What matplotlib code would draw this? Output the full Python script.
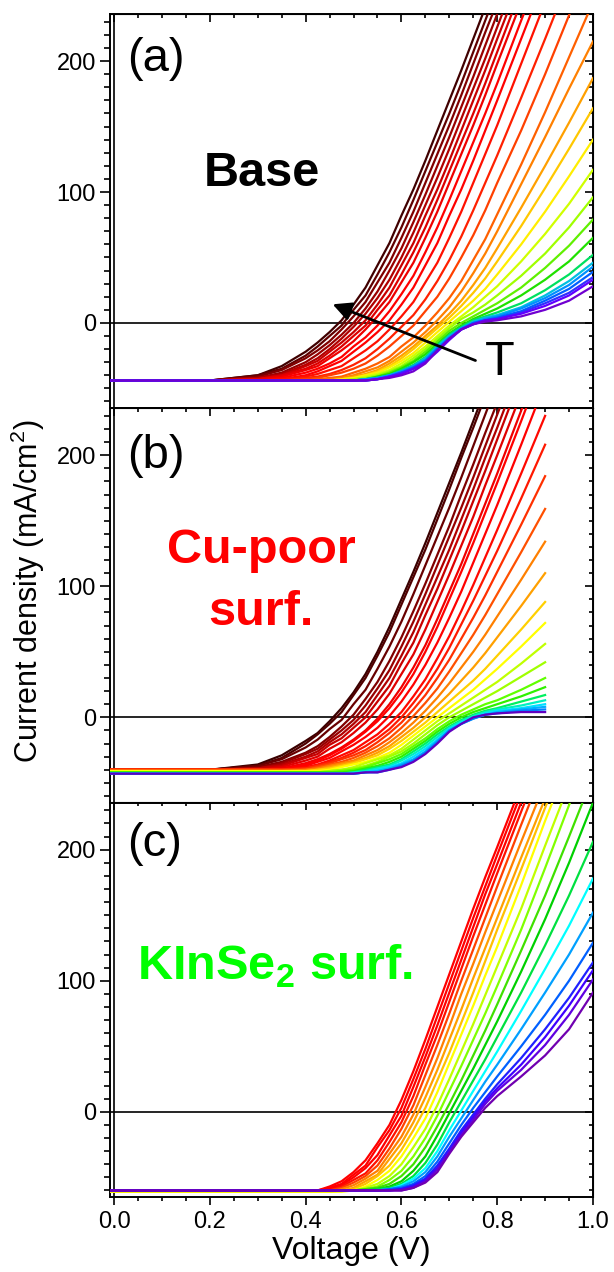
import numpy as np
import matplotlib
matplotlib.use("Agg")
import matplotlib.pyplot as plt
from matplotlib.ticker import MultipleLocator, NullFormatter

plt.rcParams['font.family'] = ['Liberation Sans', 'DejaVu Sans']
plt.rcParams['mathtext.fontset'] = 'custom'
plt.rcParams['mathtext.rm'] = 'Liberation Sans'
plt.rcParams['mathtext.bf'] = 'Liberation Sans:bold'

# voltage grids (V)
volt_a = [-0.01, 0.2, 0.3, 0.35, 0.4, 0.425, 0.45, 0.475, 0.5, 0.525, 0.55, 0.575, 0.6,
          0.625, 0.65, 0.675, 0.7, 0.725, 0.75, 0.775, 0.8, 0.85, 0.9, 0.95, 1.0]
volt_b = [-0.01, 0.2, 0.3, 0.35, 0.4, 0.425, 0.45, 0.475, 0.5, 0.525, 0.55, 0.575, 0.6,
          0.625, 0.65, 0.675, 0.7, 0.725, 0.75, 0.775, 0.8, 0.85, 0.9]
volt_c = volt_a

# current density (mA/cm2), hottest curve first
curves_a = [
    [-44, -44, -40, -33, -22, -15, -7, 2, 14, 27, 44, 61, 82, 102, 124, 147, 170, 193, 217, 241, 264, 311, 358, 405, 452],
    [-44, -44, -40, -35, -25, -18, -10, -2, 10, 21, 37, 54, 73, 94, 116, 138, 160, 183, 207, 231, 255, 302, 349, 396, 443],
    [-44, -44, -41, -36, -27, -21, -14, -5, 5, 16, 31, 46, 65, 85, 107, 129, 151, 174, 198, 222, 245, 292, 339, 386, 433],
    [-44, -44, -42, -38, -30, -24, -17, -9, 0, 11, 24, 40, 57, 77, 98, 120, 142, 165, 188, 212, 236, 283, 330, 377, 424],
    [-44, -44, -42, -39, -32, -27, -20, -12, -3, 7, 19, 33, 50, 69, 90, 111, 133, 156, 179, 202, 226, 274, 321, 368, 415],
    [-44, -44, -43, -40, -33, -29, -22, -15, -7, 2, 14, 27, 44, 61, 82, 102, 124, 147, 170, 193, 217, 264, 311, 358, 405],
    [-44, -44, -43, -40, -35, -31, -25, -18, -10, -2, 10, 21, 37, 54, 73, 94, 116, 138, 160, 183, 207, 255, 302, 349, 396],
    [-44, -44, -43, -41, -36, -33, -27, -21, -14, -5, 5, 16, 31, 46, 65, 85, 107, 129, 151, 174, 198, 245, 292, 339, 386],
    [-44, -44, -44, -42, -38, -35, -31, -26, -18, -11, -2, 9, 22, 36, 54, 73, 94, 116, 138, 160, 183, 231, 278, 325, 372],
    [-44, -44, -44, -43, -40, -37, -33, -29, -22, -15, -7, 2, 14, 27, 44, 61, 82, 102, 124, 147, 170, 217, 264, 311, 358],
    [-44, -44, -44, -43, -41, -39, -36, -33, -27, -21, -14, -5, 5, 16, 31, 46, 65, 85, 107, 129, 151, 198, 245, 292, 339],
    [-44, -44, -44, -44, -42, -41, -39, -36, -32, -27, -20, -12, -3, 6, 18, 32, 48, 66, 86, 107, 128, 172, 217, 263, 308],
    [-44, -44, -44, -44, -43, -42, -40, -38, -35, -31, -25, -18, -10, -2, 9, 20, 34, 50, 67, 86, 107, 147, 190, 235, 278],
    [-44, -44, -44, -44, -44, -43, -42, -41, -38, -35, -31, -26, -18, -11, -2, 8, 19, 32, 48, 64, 83, 121, 161, 203, 245],
    [-44, -44, -44, -44, -44, -44, -43, -42, -40, -37, -34, -29, -22, -15, -7, 2, 12, 24, 38, 53, 70, 106, 142, 179, 215],
    [-44, -44, -44, -44, -44, -44, -44, -43, -41, -39, -36, -31, -25, -18, -10, -2, 7, 17, 29, 42, 57, 88, 120, 153, 187],
    [-44, -44, -44, -44, -44, -44, -44, -43, -42, -40, -37, -33, -27, -20, -12, -4, 4, 13, 23, 34, 47, 74, 103, 133, 164],
    [-44, -44, -44, -44, -44, -44, -44, -43, -42, -40, -38, -34, -29, -23, -15, -7, 1, 9, 17, 26, 37, 60, 85, 112, 140],
    [-44, -44, -44, -44, -44, -44, -44, -44, -43, -41, -39, -36, -31, -25, -18, -10, -2, 5, 12, 20, 28, 47, 68, 91, 117],
    [-44, -44, -44, -44, -44, -44, -44, -44, -43, -42, -40, -37, -33, -27, -20, -12, -4, 3, 8, 14, 21, 36, 53, 73, 96],
    [-44, -44, -44, -44, -44, -44, -44, -44, -44, -43, -41, -38, -34, -29, -22, -14, -6, 0, 5, 10, 15, 27, 42, 59, 79],
    [-44, -44, -44, -44, -44, -44, -44, -44, -44, -43, -41, -39, -35, -30, -24, -16, -8, -2, 3, 7, 11, 21, 33, 47, 65],
    [-44, -44, -44, -44, -44, -44, -44, -44, -44, -43, -42, -40, -36, -32, -26, -17, -9, -3, 2, 5, 8, 15, 25, 37, 52],
    [-44, -44, -44, -44, -44, -44, -44, -44, -44, -43, -42, -40, -37, -33, -27, -18, -10, -4, 1, 4, 6, 12, 21, 32, 46],
    [-44, -44, -44, -44, -44, -44, -44, -44, -44, -43, -42, -40, -37, -33, -28, -19, -11, -4, 0, 3, 5, 11, 19, 29, 43],
    [-44, -44, -44, -44, -44, -44, -44, -44, -44, -44, -43, -41, -38, -34, -29, -20, -12, -5, 0, 2, 4, 9, 17, 26, 39],
    [-44, -44, -44, -44, -44, -44, -44, -44, -44, -44, -43, -41, -38, -35, -30, -21, -12, -5, -1, 2, 3, 8, 15, 23, 35],
    [-44, -44, -44, -44, -44, -44, -44, -44, -44, -44, -43, -41, -39, -35, -30, -22, -13, -5, -1, 2, 3, 7, 13, 21, 33],
    [-44, -44, -44, -44, -44, -44, -44, -44, -44, -44, -43, -42, -40, -37, -31, -21, -12, -5, -1, 1, 2, 5, 10, 17, 28],
]

curves_b = [
    [-40, -40, -36, -29, -18, -12, -3, 7, 19, 33, 50, 69, 90, 111, 133, 156, 179, 202, 226, 250, 274, 321, 368],
    [-40, -40, -37, -31, -20, -13, -5, 4, 17, 30, 47, 65, 86, 107, 128, 151, 174, 198, 221, 245, 269, 316, 363],
    [-40, -40, -37, -32, -23, -17, -9, -2, 10, 21, 37, 54, 73, 94, 116, 138, 160, 183, 207, 231, 255, 302, 349],
    [-40, -40, -38, -34, -27, -22, -15, -7, 2, 14, 27, 43, 61, 81, 102, 124, 146, 170, 193, 217, 240, 287, 334],
    [-40, -40, -39, -35, -28, -24, -17, -10, -2, 9, 22, 36, 54, 73, 94, 116, 138, 160, 183, 207, 231, 278, 325],
    [-40, -40, -39, -36, -30, -26, -19, -13, -5, 4, 17, 30, 47, 65, 86, 107, 128, 151, 174, 198, 221, 269, 316],
    [-40, -40, -39, -37, -31, -28, -21, -16, -8, 0, 12, 24, 41, 57, 78, 98, 120, 142, 165, 188, 212, 260, 307],
    [-40, -40, -40, -38, -33, -30, -24, -19, -12, -4, 6, 18, 33, 48, 67, 88, 109, 131, 153, 177, 200, 247, 294],
    [-40, -40, -40, -39, -35, -32, -28, -23, -17, -10, -1, 10, 23, 38, 55, 75, 96, 117, 140, 163, 186, 234, 281],
    [-40, -40, -40, -40, -36, -33, -29, -24, -18, -11, -3, 7, 19, 33, 50, 69, 90, 111, 133, 156, 179, 226, 274],
    [-40, -40, -40, -40, -37, -34, -31, -26, -21, -15, -8, 1, 12, 25, 40, 57, 76, 96, 118, 140, 162, 208, 255],
    [-40, -40, -40, -40, -38, -36, -33, -29, -25, -19, -13, -5, 4, 16, 29, 45, 62, 81, 101, 122, 143, 186, 230],
    [-40, -40, -40, -40, -39, -37, -34, -31, -27, -22, -16, -9, 0, 11, 23, 37, 53, 71, 89, 108, 127, 167, 208],
    [-40, -40, -40, -40, -39, -37, -35, -32, -29, -25, -19, -12, -4, 6, 17, 30, 44, 60, 76, 93, 111, 147, 184],
    [-40, -40, -40, -40, -40, -38, -36, -34, -31, -27, -22, -16, -8, 1, 11, 22, 35, 49, 63, 78, 94, 126, 159],
    [-41, -41, -41, -41, -40, -39, -37, -35, -33, -29, -25, -19, -12, -4, 5, 15, 26, 38, 50, 63, 77, 105, 134],
    [-41, -41, -41, -41, -41, -40, -38, -36, -34, -31, -27, -22, -15, -8, 0, 9, 18, 28, 38, 49, 61, 85, 110],
    [-41, -41, -41, -41, -41, -40, -39, -37, -35, -32, -29, -24, -18, -11, -4, 4, 12, 20, 28, 37, 47, 67, 88],
    [-41, -41, -41, -41, -41, -41, -40, -38, -36, -34, -31, -27, -21, -14, -7, 0, 7, 14, 21, 29, 37, 54, 72],
    [-42, -42, -42, -42, -42, -42, -41, -40, -38, -35, -32, -29, -24, -17, -10, -3, 3, 9, 15, 21, 27, 41, 56],
    [-42, -42, -42, -42, -42, -42, -41, -40, -39, -37, -34, -30, -26, -20, -13, -6, 0, 5, 10, 15, 20, 31, 42],
    [-42, -42, -42, -42, -42, -42, -42, -41, -40, -38, -35, -32, -28, -22, -16, -9, -3, 2, 6, 10, 13, 21, 30],
    [-42, -42, -42, -42, -42, -42, -42, -42, -41, -39, -37, -34, -30, -24, -18, -11, -5, 0, 4, 7, 10, 16, 23],
    [-43, -43, -43, -43, -43, -43, -43, -43, -42, -40, -38, -36, -32, -26, -20, -13, -7, -2, 2, 5, 7, 12, 17],
    [-43, -43, -43, -43, -43, -43, -43, -43, -42, -41, -39, -37, -33, -28, -22, -15, -8, -3, 1, 4, 6, 9, 13],
    [-43, -43, -43, -43, -43, -43, -43, -43, -43, -42, -40, -38, -35, -30, -24, -17, -9, -4, 0, 3, 5, 7, 10],
    [-43, -43, -43, -43, -43, -43, -43, -43, -43, -42, -41, -39, -36, -32, -26, -18, -10, -5, -1, 2, 4, 6, 8],
    [-43, -43, -43, -43, -43, -43, -43, -43, -43, -42, -42, -40, -37, -33, -27, -19, -10, -5, -1, 2, 3, 5, 6],
    [-43, -43, -43, -43, -43, -43, -43, -43, -43, -42, -42, -40, -38, -34, -28, -20, -11, -5, 0, 2, 3, 4, 4],
]

curves_c = [
    [-61, -61, -61, -61, -61, -60, -57, -53, -46, -37, -24, -10, 9, 31, 55, 80, 105, 130, 155, 179, 202, 249, 296, 343, 390],
    [-61, -61, -61, -61, -61, -60, -58, -55, -48, -41, -27, -14, 3, 25, 48, 73, 98, 123, 148, 172, 196, 243, 290, 337, 384],
    [-61, -61, -61, -61, -61, -61, -59, -56, -50, -43, -33, -18, -3, 19, 42, 66, 91, 116, 141, 166, 189, 236, 283, 330, 377],
    [-61, -61, -61, -61, -61, -61, -60, -57, -52, -47, -37, -23, -8, 12, 36, 59, 84, 109, 134, 158, 182, 229, 276, 323, 370],
    [-61, -61, -61, -61, -61, -61, -60, -58, -54, -49, -41, -28, -13, 5, 28, 51, 75, 100, 124, 148, 172, 219, 265, 311, 357],
    [-61, -61, -61, -61, -61, -61, -61, -59, -56, -51, -45, -32, -19, -2, 19, 41, 65, 90, 113, 137, 160, 206, 251, 296, 341],
    [-61, -61, -61, -61, -61, -61, -61, -60, -58, -53, -48, -36, -24, -8, 11, 32, 55, 78, 102, 125, 148, 194, 239, 283, 327],
    [-61, -61, -61, -61, -61, -61, -61, -60, -59, -55, -49, -41, -29, -14, 3, 24, 45, 68, 91, 115, 139, 185, 232, 278, 323],
    [-61, -61, -61, -61, -61, -61, -61, -61, -60, -57, -52, -45, -34, -20, -5, 15, 37, 59, 81, 104, 126, 173, 222, 268, 313],
    [-60, -60, -60, -60, -60, -60, -60, -60, -60, -58, -55, -49, -40, -27, -13, 5, 25, 46, 67, 89, 111, 155, 203, 250, 297],
    [-60, -60, -60, -60, -60, -60, -60, -60, -60, -59, -57, -52, -45, -34, -20, -3, 16, 35, 55, 75, 96, 139, 186, 234, 282],
    [-60, -60, -60, -60, -60, -60, -60, -60, -60, -59, -58, -55, -49, -40, -27, -11, 6, 24, 43, 62, 82, 123, 165, 210, 256],
    [-60, -60, -60, -60, -60, -60, -60, -60, -60, -60, -59, -57, -53, -45, -34, -18, -1, 16, 33, 51, 69, 107, 147, 190, 236],
    [-60, -60, -60, -60, -60, -60, -60, -60, -60, -60, -59, -58, -55, -49, -39, -25, -8, 8, 24, 40, 57, 91, 127, 165, 206],
    [-60, -60, -60, -60, -60, -60, -60, -60, -60, -60, -60, -59, -56, -51, -43, -30, -14, 1, 16, 31, 46, 77, 109, 142, 178],
    [-60, -60, -60, -60, -60, -60, -60, -60, -60, -60, -60, -59, -57, -53, -46, -34, -19, -5, 9, 23, 36, 63, 91, 120, 152],
    [-60, -60, -60, -60, -60, -60, -60, -60, -60, -60, -60, -59, -58, -55, -49, -38, -24, -10, 3, 15, 27, 50, 74, 100, 129],
    [-60, -60, -60, -60, -60, -60, -60, -60, -60, -60, -60, -60, -59, -56, -51, -41, -28, -14, -2, 10, 21, 41, 63, 87, 114],
    [-60, -60, -60, -60, -60, -60, -60, -60, -60, -60, -60, -60, -59, -57, -52, -43, -30, -16, -4, 8, 18, 36, 57, 81, 108],
    [-60, -60, -60, -60, -60, -60, -60, -60, -60, -60, -60, -60, -60, -58, -53, -44, -31, -18, -6, 6, 16, 32, 51, 74, 101],
    [-60, -60, -60, -60, -60, -60, -60, -60, -60, -60, -60, -60, -60, -58, -54, -46, -32, -19, -8, 3, 12, 27, 43, 63, 91],
]

colors_a = ['#400000', '#600000', '#800000', '#990000', '#b00000', '#c80000', '#dd0000', '#ee0000',
            '#ff0000', '#ff0000', '#ff1000', '#ff2000', '#ff4000', '#ff6000', '#ff8000', '#ffa000',
            '#ffc800', '#ffee00', '#d0ff00', '#a0ff00', '#60f000', '#20e000', '#00e060', '#00c0e0',
            '#0090ff', '#0060ff', '#3030ff', '#6000ff', '#7000d0']
colors_b = ['#3a0000', '#500000', '#680000', '#800000', '#980000', '#b00000', '#c80000', '#e00000',
            '#f00000', '#ff0000', '#ff0000', '#ff0800', '#ff1800', '#ff3000', '#ff5000', '#ff8000',
            '#ffa000', '#ffd000', '#ffff00', '#c0ff00', '#a0ff00', '#60ff00', '#30f000', '#00f060',
            '#00f0c0', '#00e0ff', '#00b0ff', '#0080ff', '#6000c0']
colors_c = ['#ff0000', '#ff0000', '#ff0000', '#ff1000', '#ff4000', '#ff8000', '#ffa000', '#ffc000',
            '#ffff00', '#c0ff00', '#80ff00', '#40e000', '#00d000', '#00e040', '#00ffff', '#00a0ff',
            '#0060ff', '#2020ff', '#4000ff', '#6000e0', '#7000b0']

fig = plt.figure(figsize=(6.14, 12.72), dpi=100)
left, width = 110 / 614, (593 - 110) / 614
ax_a = fig.add_axes([left, 1 - 408 / 1272, width, 394 / 1272])
ax_b = fig.add_axes([left, 1 - 802.5 / 1272, width, 394.5 / 1272])
ax_c = fig.add_axes([left, 1 - 1197 / 1272, width, 394.5 / 1272])

panels = [(ax_a, volt_a, curves_a, colors_a),
          (ax_b, volt_b, curves_b, colors_b),
          (ax_c, volt_c, curves_c, colors_c)]

for ax, volt, curves, colors in panels:
    for j, col in zip(curves, colors):
        ax.plot(volt, j, color=col, lw=1.6, zorder=3, solid_joinstyle='round')
    ax.axhline(0, color='k', lw=1.2, zorder=2)
    ax.axvline(0, color='k', lw=1.2, zorder=2)
    ax.set_xlim(-0.0085, 1.0)
    ax.set_ylim(-65, 236)
    ax.xaxis.set_major_locator(MultipleLocator(0.2))
    ax.xaxis.set_minor_locator(MultipleLocator(0.05))
    ax.yaxis.set_major_locator(MultipleLocator(100))
    ax.yaxis.set_minor_locator(MultipleLocator(10))
    for s in ax.spines.values():
        s.set_linewidth(1.4)
    ax.tick_params(axis='y', which='both', direction='out', left=True, right=False,
                   labelsize=17, width=1.2)
    ax.tick_params(axis='y', which='major', length=7, pad=3)
    ax.tick_params(axis='y', which='minor', length=4)
    ax.tick_params(axis='x', which='both', direction='out', top=False, width=1.2,
                   labelsize=17, bottom=(ax is ax_c), labelbottom=(ax is ax_c))
    ax.tick_params(axis='x', which='major', length=6, pad=4)
    ax.tick_params(axis='x', which='minor', length=3)
    # inward ticks on top and right
    sx = ax.secondary_xaxis('top')
    sx.xaxis.set_major_locator(MultipleLocator(0.2))
    sx.xaxis.set_minor_locator(MultipleLocator(0.05))
    sx.xaxis.set_major_formatter(NullFormatter())
    sx.tick_params(which='both', direction='in', width=1.2)
    sx.tick_params(which='major', length=6)
    sx.tick_params(which='minor', length=3)
    sy = ax.secondary_yaxis('right')
    sy.yaxis.set_major_locator(MultipleLocator(100))
    sy.yaxis.set_minor_locator(MultipleLocator(10))
    sy.yaxis.set_major_formatter(NullFormatter())
    sy.tick_params(which='both', direction='in', width=1.2)
    sy.tick_params(which='major', length=6)
    sy.tick_params(which='minor', length=3)

ax_c.xaxis.set_major_formatter(plt.FuncFormatter(lambda v, p: f'{v:.1f}'))

ax_a.text(0.027, 202, '(a)', fontsize=34, ha='left', va='center')
ax_a.text(0.308, 114, 'Base', fontsize=35, fontweight='bold', ha='center', va='center')
ax_a.text(0.806, -30, 'T', fontsize=35, ha='center', va='center')
ax_a.annotate('', xy=(0.451, 15), xytext=(0.76, -29.5),
              arrowprops=dict(arrowstyle='-|>', color='k', lw=2, mutation_scale=28), zorder=5)

ax_b.text(0.027, 199, '(b)', fontsize=34, ha='left', va='center')
ax_b.text(0.307, 127, 'Cu-poor', fontsize=35, fontweight='bold', color='#ff0000',
          ha='center', va='center')
ax_b.text(0.307, 80, 'surf.', fontsize=35, fontweight='bold', color='#ff0000',
          ha='center', va='center')

ax_c.text(0.027, 204, '(c)', fontsize=34, ha='left', va='center')
ax_c.text(0.336, 111, 'KInSe$_\\mathbf{2}$ surf.', fontsize=35, fontweight='bold',
          color='#00ff00', ha='center', va='center')

ax_c.set_xlabel('Voltage (V)', fontsize=23, labelpad=2)
fig.text(0.046, 0.535, 'Current density (mA/cm$^2$)', rotation=90, fontsize=22,
         ha='center', va='center')

fig.savefig('out.png', dpi=100)
